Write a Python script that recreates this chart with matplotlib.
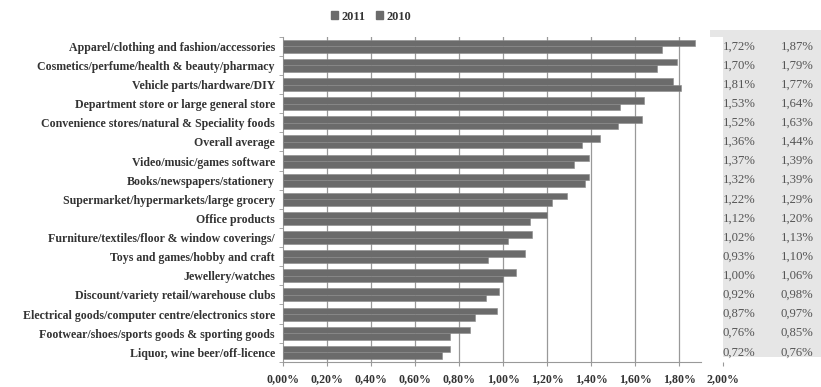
import numpy as np
import matplotlib.pyplot as plt
from matplotlib.patches import Patch, Rectangle
from matplotlib.transforms import blended_transform_factory

# =============================
# Data (top to bottom)
# =============================

categories = [
    "Apparel/clothing and fashion/accessories",
    "Cosmetics/perfume/health & beauty/pharmacy",
    "Vehicle parts/hardware/DIY",
    "Department store or large general store",
    "Convenience stores/natural & Speciality foods",
    "Overall average",
    "Video/music/games software",
    "Books/newspapers/stationery",
    "Supermarket/hypermarkets/large grocery",
    "Office products",
    "Furniture/textiles/floor & window coverings/",
    "Toys and games/hobby and craft",
    "Jewellery/watches",
    "Discount/variety retail/warehouse clubs",
    "Electrical goods/computer centre/electronics store",
    "Footwear/shoes/sports goods & sporting goods",
    "Liquor, wine beer/off-licence",
]

# bar lengths (%) as drawn
bars_2011 = [1.72, 1.70, 1.81, 1.53, 1.52, 1.36, 1.32, 1.37, 1.22, 1.12,
             1.02, 0.93, 1.00, 0.92, 0.87, 0.76, 0.72]
bars_2010 = [1.87, 1.79, 1.77, 1.64, 1.63, 1.44, 1.39, 1.39, 1.29, 1.20,
             1.13, 1.10, 1.06, 0.98, 0.97, 0.85, 0.76]

# values printed in the side table
table_col1 = ["1,72%", "1,70%", "1,81%", "1,53%", "1,52%", "1,36%", "1,37%",
              "1,32%", "1,22%", "1,12%", "1,02%", "0,93%", "1,00%", "0,92%",
              "0,87%", "0,76%", "0,72%"]
table_col2 = ["1,87%", "1,79%", "1,77%", "1,64%", "1,63%", "1,44%", "1,39%",
              "1,39%", "1,29%", "1,20%", "1,13%", "1,10%", "1,06%", "0,98%",
              "0,97%", "0,85%", "0,76%"]

x_ticks = [0.0, 0.2, 0.4, 0.6, 0.8, 1.0, 1.2, 1.4, 1.6, 1.8, 2.0]

# =============================
# Figure
# =============================

plt.rcParams['font.family'] = ['Liberation Serif', 'DejaVu Serif']

bar_color = "#6b6b6b"
text_color = "#333333"

fig = plt.figure(figsize=(8.21, 3.87), dpi=100)
ax = fig.add_axes([0.345, 0.065, 0.536, 0.84])

n = len(categories)
y = np.arange(n)[::-1]
h = 0.34

ax.barh(y - h / 2, bars_2011, height=h, color=bar_color, edgecolor="#8a8a8a",
        linewidth=0.4, zorder=3)
ax.barh(y + h / 2, bars_2010, height=h, color=bar_color, edgecolor="#8a8a8a",
        linewidth=0.4, zorder=3)

ax.set_xlim(0, 2.0)
ax.set_ylim(-0.5, n - 0.5)

ax.set_yticks(y)
ax.set_yticklabels(categories, fontsize=8.6, fontweight="bold", color=text_color)
ax.set_yticks(np.arange(n + 1) - 0.5, minor=True)
ax.tick_params(axis="y", which="major", length=0, pad=6)
ax.tick_params(axis="y", which="minor", length=3, color="#999999", direction="out")

ax.set_xticks(x_ticks)
ax.set_xticklabels([f"{v:.2f}%".replace(".", ",") for v in x_ticks],
                   fontsize=8.6, fontweight="bold", color=text_color)
ax.tick_params(axis="x", length=3, color="#999999", pad=5)

for v in x_ticks[1:-1]:
    ax.axvline(v, color="#999999", linewidth=0.9, zorder=1)

for s in ["top", "right"]:
    ax.spines[s].set_visible(False)
ax.spines["left"].set_color("#999999")
ax.spines["bottom"].set_color("#999999")
ax.spines["bottom"].set_bounds(0, 1.9)

# legend
handles = [Patch(color=bar_color, label="2011"), Patch(color=bar_color, label="2010")]
fig.legend(handles=handles, loc="center", bbox_to_anchor=(0.452, 0.957), ncol=2,
           frameon=False, handlelength=0.6, handleheight=0.6, handletextpad=0.3,
           columnspacing=0.8, prop={"size": 8.8, "weight": "bold"},
           labelcolor=text_color)

# side table
fig.patches.append(Rectangle((0.865, 0.078), 0.14, 0.845, transform=fig.transFigure,
                             facecolor="#e6e6e6", edgecolor="none", zorder=-1))
trans = blended_transform_factory(fig.transFigure, ax.transData)
for i in range(n):
    fig.text(0.88, y[i], table_col1[i], transform=trans, ha="left", va="center",
             fontsize=9.2, color="#555555", zorder=5)
    fig.text(0.951, y[i], table_col2[i], transform=trans, ha="left", va="center",
             fontsize=9.2, color="#555555", zorder=5)

fig.savefig("out.png", dpi=100)
